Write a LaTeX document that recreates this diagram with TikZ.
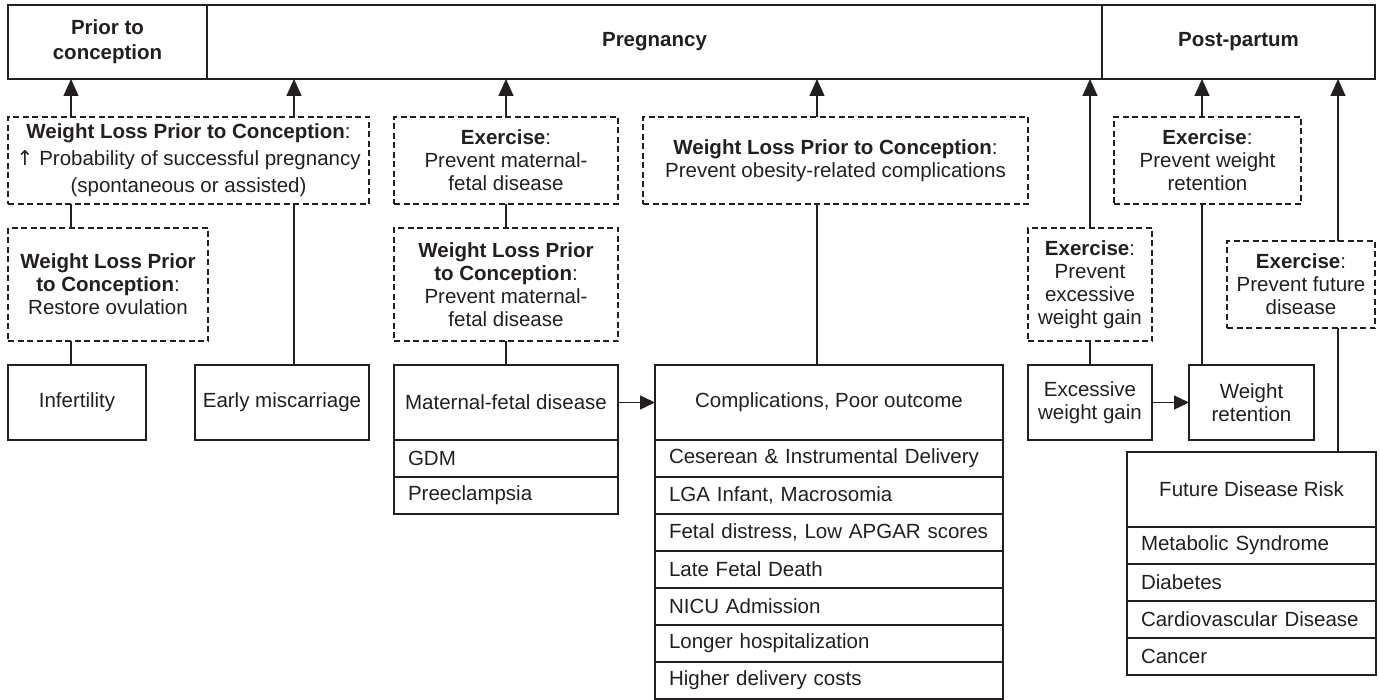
\documentclass[tikz,border=0pt]{standalone}
\usepackage{fontspec}
\setmainfont{Liberation Sans}
\newfontfamily\dvs{DejaVu Sans}
\usetikzlibrary{arrows.meta}
\definecolor{ink}{HTML}{231F20}
\begin{document}
\begin{tikzpicture}[x=1pt,y=-1pt,
  every node/.style={font=\fontsize{20.5}{23}\selectfont, text=ink},
  base/.style={draw=ink, line width=1.2pt, inner sep=0pt, outer sep=0pt, anchor=north west, align=center},
  solidbox/.style={base},
  dashbox/.style={base, line width=1.4pt, dash pattern=on 6pt off 3.5pt},
  rowbox/.style={base, align=left, inner xsep=14pt, text width=#1, minimum height=37pt},
  barbox/.style={base, line width=1.7pt, font=\fontsize{20.5}{25}\selectfont\bfseries},
  arr/.style={draw=ink, line width=1.2pt, -{Triangle[length=17pt,width=15pt]}},
  harr/.style={draw=ink, line width=1.2pt, -{Triangle[length=15pt,width=14pt]}},
  link/.style={draw=ink, line width=1.2pt}
]
\useasboundingbox (0,0) rectangle (1380,700);

% top bar
\node[barbox, minimum width=199pt, minimum height=74pt] (prior) at (8,5) {Prior to\\conception};
\node[barbox, minimum width=895pt, minimum height=74pt] (preg) at (207,5) {Pregnancy};
\node[barbox, minimum width=273pt, minimum height=74pt] (post) at (1102,5) {Post-partum};

% dashed intervention boxes
\node[dashbox, minimum width=361pt, minimum height=87pt, font=\fontsize{20.5}{27}\selectfont] (d1) at (8,117)
  {\textbf{Weight Loss Prior to Conception}:\\{\dvs ↑} Probability of successful pregnancy\\(spontaneous or assisted)};
\node[dashbox, minimum width=200pt, minimum height=113pt] (d2) at (8,228)
  {\textbf{Weight Loss Prior}\\\textbf{to Conception}:\\Restore ovulation};
\node[dashbox, minimum width=224pt, minimum height=87pt] (d3) at (394,117)
  {\textbf{Exercise}:\\Prevent maternal-\\fetal disease};
\node[dashbox, minimum width=224pt, minimum height=113pt] (d4) at (394,228)
  {\textbf{Weight Loss Prior}\\\textbf{to Conception}:\\Prevent maternal-\\fetal disease};
\node[dashbox, minimum width=385pt, minimum height=87pt] (d5) at (643,117)
  {\textbf{Weight Loss Prior to Conception}:\\Prevent obesity-related complications};
\node[dashbox, minimum width=124pt, minimum height=113pt] (d6) at (1028,228)
  {\textbf{Exercise}:\\Prevent\\excessive\\weight gain};
\node[dashbox, minimum width=187pt, minimum height=87pt] (d7) at (1114,117)
  {\textbf{Exercise}:\\Prevent weight\\retention};
\node[dashbox, minimum width=148pt, minimum height=87pt] (d8) at (1227,241)
  {\textbf{Exercise}:\\Prevent future\\disease};

% outcome boxes
\node[solidbox, minimum width=138pt, minimum height=75pt] (infert) at (8,365) {Infertility};
\node[solidbox, minimum width=174pt, minimum height=75pt] (miscar) at (195,365) {Early miscarriage};

\node[solidbox, minimum width=224pt, minimum height=75pt] (mat) at (394,365) {Maternal-fetal disease};
\node[rowbox=196pt] (gdm) at (394,440) {GDM};
\node[rowbox=196pt] (pre) at (394,477) {Preeclampsia};

\node[solidbox, minimum width=348pt, minimum height=75pt] (comp) at (655,365) {Complications, Poor outcome};
\node[rowbox=320pt] (c1) at (655,440) {Ceserean \& Instrumental Delivery};
\node[rowbox=320pt] (c2) at (655,477) {LGA Infant, Macrosomia};
\node[rowbox=320pt] (c3) at (655,514) {Fetal distress, Low APGAR scores};
\node[rowbox=320pt] (c4) at (655,551) {Late Fetal Death};
\node[rowbox=320pt] (c5) at (655,588) {NICU Admission};
\node[rowbox=320pt] (c6) at (655,625) {Longer hospitalization};
\node[rowbox=320pt] (c7) at (655,662) {Higher delivery costs};

\node[solidbox, minimum width=124pt, minimum height=75pt] (exc) at (1028,365) {Excessive\\weight gain};
\node[solidbox, minimum width=125pt, minimum height=75pt] (ret) at (1189,365) {Weight\\retention};

\node[solidbox, minimum width=249pt, minimum height=75pt] (fut) at (1127,452) {Future Disease Risk};
\node[rowbox=221pt] (f1) at (1127,527) {Metabolic Syndrome};
\node[rowbox=221pt] (f2) at (1127,564) {Diabetes};
\node[rowbox=221pt] (f3) at (1127,601) {Cardiovascular Disease};
\node[rowbox=221pt] (f4) at (1127,638) {Cancer};

% connector x positions
\coordinate (xa) at (71,0);
\coordinate (xb) at (294,0);
\coordinate (xc) at (817,0);
\coordinate (xd) at (1202,0);
\coordinate (xe) at (1338,0);

% connectors
\draw[arr] (xa |- d1.north) -- (xa |- prior.south);
\draw[link] (xa |- d1.south) -- (xa |- d2.north);
\draw[link] (xa |- d2.south) -- (xa |- infert.north);
\draw[arr] (xb |- d1.north) -- (xb |- preg.south);
\draw[link] (xb |- d1.south) -- (xb |- miscar.north);

\draw[arr] (d3.north) -- (d3.north |- preg.south);
\draw[link] (d3.south) -- (d4.north);
\draw[link] (d4.south) -- (mat.north);
\draw[harr] (mat.east) -- (comp.west);

\draw[arr] (xc |- d5.north) -- (xc |- preg.south);
\draw[link] (xc |- d5.south) -- (xc |- comp.north);

\draw[arr] (d6.north) -- (d6.north |- preg.south);
\draw[link] (d6.south) -- (exc.north);
\draw[harr] (exc.east) -- (ret.west);

\draw[arr] (xd |- d7.north) -- (xd |- post.south);
\draw[link] (xd |- d7.south) -- (xd |- ret.north);

\draw[arr] (xe |- d8.north) -- (xe |- post.south);
\draw[link] (xe |- d8.south) -- (xe |- fut.north);
\end{tikzpicture}
\end{document}
